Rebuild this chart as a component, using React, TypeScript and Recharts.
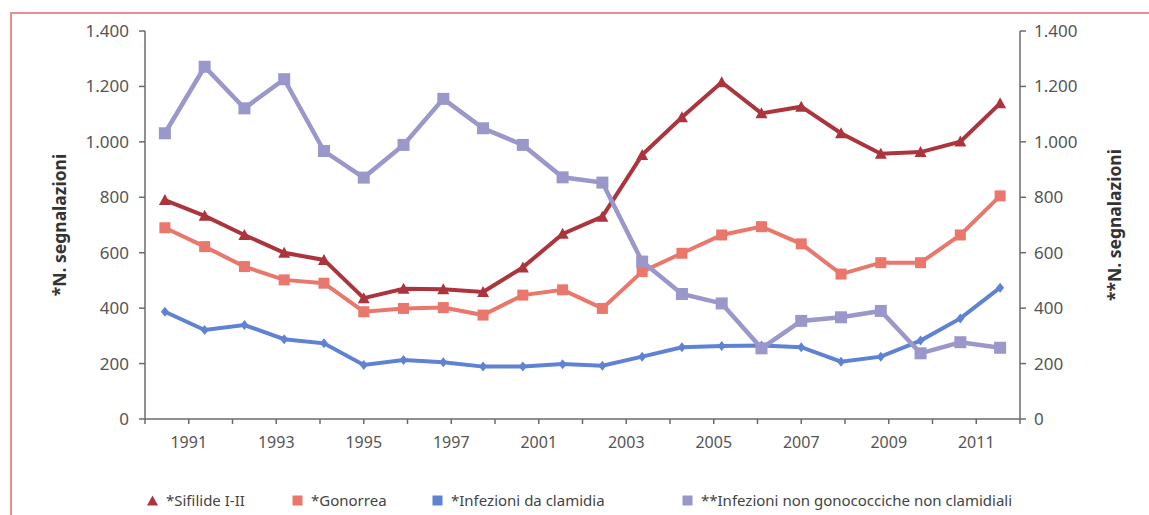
import { Legend, Line, LineChart, XAxis, YAxis } from 'recharts'

const years = [
  1990, 1991, 1992, 1993, 1994, 1995, 1996, 1997, 1998, 1999, 2000, 2001,
  2002, 2003, 2004, 2005, 2006, 2007, 2008, 2009, 2010, 2011,
]

// tick labels as printed under the axis (one every other tick)
const xTickLabels = ['1991', '1993', '1995', '1997', '2001', '2003', '2005', '2007', '2009', '2011']
const yTicks = [0, 200, 400, 600, 800, 1000, 1200, 1400]

const sifilide = [790, 733, 664, 600, 574, 436, 470, 468, 458, 547, 668, 730, 953, 1089, 1215, 1103, 1127, 1031, 957, 963, 1001, 1139]
const gonorrea = [690, 622, 550, 502, 490, 387, 399, 402, 375, 447, 466, 399, 532, 598, 664, 694, 632, 523, 564, 564, 664, 805]
const clamidia = [387, 321, 339, 288, 273, 195, 213, 205, 189, 189, 198, 192, 225, 259, 263, 265, 259, 207, 225, 283, 363, 474]
const nonGono = [1031, 1271, 1121, 1226, 967, 871, 989, 1155, 1049, 989, 872, 853, 568, 451, 417, 255, 354, 367, 390, 237, 277, 257]

const RED = '#AC353D'
const SALMON = '#E9776C'
const BLUE = '#5F82D3'
const PURPLE = '#9A97CA'

const data = years.map((year, i) => ({
  year,
  sifilide: sifilide[i],
  gonorrea: gonorrea[i],
  clamidia: clamidia[i],
  nonGono: nonGono[i],
}))

// the printed axis has 20 equal steps spread over the 22 data slots
const xMin = years[0] - 0.5
const xMax = years[years.length - 1] + 0.5
const xStep = (xMax - xMin) / 20
const xTicks = Array.from({ length: 21 }, (_, k) => xMin + k * xStep)

const fmtX = (v: number) => {
  const k = Math.round((v - xMin) / xStep)
  return k % 2 === 1 ? xTickLabels[(k - 1) / 2] ?? '' : ''
}
const fmtY = (v: number) => String(v).replace(/\B(?=(\d{3})+(?!\d))/g, '.')

const triangleDot = (color: string) => (props: any) => {
  const { cx, cy, index } = props
  if (cx == null || cy == null) return <g key={index} />
  return (
    <polygon
      key={index}
      points={`${cx},${cy - 6} ${cx + 6},${cy + 5} ${cx - 6},${cy + 5}`}
      fill={color}
    />
  )
}

const squareDot = (color: string, s: number) => (props: any) => {
  const { cx, cy, index } = props
  if (cx == null || cy == null) return <g key={index} />
  return <rect key={index} x={cx - s / 2} y={cy - s / 2} width={s} height={s} fill={color} />
}

const diamondDot = (color: string) => (props: any) => {
  const { cx, cy, index } = props
  if (cx == null || cy == null) return <g key={index} />
  return (
    <polygon
      key={index}
      points={`${cx},${cy - 5} ${cx + 4},${cy} ${cx},${cy + 5} ${cx - 4},${cy}`}
      fill={color}
    />
  )
}

const legendItems = [
  { label: '*Sifilide I-II', color: RED, shape: 'triangle', left: 147 },
  { label: '*Gonorrea', color: SALMON, shape: 'square', left: 292 },
  { label: '*Infezioni da clamidia', color: BLUE, shape: 'square', left: 432 },
  { label: '**Infezioni non gonococciche non clamidiali', color: PURPLE, shape: 'square', left: 682 },
]

function ChartLegend() {
  return (
    <div style={{ position: 'relative', width: 1149, height: 22 }}>
      {legendItems.map((it) => (
        <div
          key={it.label}
          style={{
            position: 'absolute',
            left: it.left,
            top: 0,
            display: 'flex',
            alignItems: 'center',
            height: 22,
            fontSize: 15,
            color: '#444',
          }}
        >
          <svg width={11} height={11} style={{ marginRight: 8 }}>
            {it.shape === 'triangle' ? (
              <polygon points='5.5,0.5 11,10.5 0,10.5' fill={it.color} />
            ) : (
              <rect x={0.5} y={0.5} width={10} height={10} fill={it.color} />
            )}
          </svg>
          <span>{it.label}</span>
        </div>
      ))}
    </div>
  )
}

const axisStroke = { stroke: '#6b6b6b', strokeWidth: 1.5 }

export default function App() {
  return (
    <div
      style={{
        position: 'fixed',
        left: 0,
        top: 0,
        width: 1149,
        height: 515,
        background: '#ffffff',
        fontFamily: '"Noto Sans", sans-serif',
        overflow: 'hidden',
      }}
    >
      <div
        style={{
          position: 'absolute',
          left: 10,
          top: 12,
          right: -4,
          bottom: -4,
          borderTop: '2px solid #E98E8A',
          borderLeft: '2px solid #E98E8A',
        }}
      />
      <LineChart
        width={1149}
        height={515}
        data={data}
        margin={{ top: 31, right: 24, left: 40, bottom: 4 }}
        style={{ position: 'absolute', left: 0, top: 0 }}
      >
        <XAxis
          dataKey='year'
          type='number'
          domain={[xMin, xMax]}
          ticks={xTicks}
          interval={0}
          tickFormatter={fmtX}
          height={70}
          tickSize={5}
          tickMargin={13}
          tick={{ fill: '#555', fontSize: 16 }}
          tickLine={axisStroke}
          axisLine={axisStroke}
        />
        <YAxis
          yAxisId='left'
          domain={[0, 1400]}
          ticks={yTicks}
          tickFormatter={fmtY}
          width={105}
          tickSize={6}
          tickMargin={10}
          tick={{ fill: '#555', fontSize: 17 }}
          tickLine={axisStroke}
          axisLine={axisStroke}
          label={{
            value: '*N. segnalazioni',
            angle: -90,
            position: 'insideLeft',
            offset: 20,
            style: { textAnchor: 'middle', fill: '#333', fontSize: 17.5, fontWeight: 700 },
          }}
        />
        <YAxis
          yAxisId='right'
          orientation='right'
          domain={[0, 1400]}
          ticks={yTicks}
          tickFormatter={fmtY}
          width={105}
          tickSize={6}
          tickMargin={8}
          tick={{ fill: '#555', fontSize: 17 }}
          tickLine={axisStroke}
          axisLine={axisStroke}
          label={{
            value: '**N. segnalazioni',
            angle: -90,
            position: 'insideRight',
            offset: 10,
            style: { textAnchor: 'middle', fill: '#333', fontSize: 17.5, fontWeight: 700 },
          }}
        />
        <Legend verticalAlign='bottom' content={<ChartLegend />} wrapperStyle={{ left: 0, width: 1149 }} />
        <Line
          yAxisId='left'
          dataKey='sifilide'
          name='*Sifilide I-II'
          stroke={RED}
          strokeWidth={4}
          dot={triangleDot(RED)}
          activeDot={false}
          isAnimationActive={false}
        />
        <Line
          yAxisId='left'
          dataKey='gonorrea'
          name='*Gonorrea'
          stroke={SALMON}
          strokeWidth={4}
          dot={squareDot(SALMON, 11)}
          activeDot={false}
          isAnimationActive={false}
        />
        <Line
          yAxisId='left'
          dataKey='clamidia'
          name='*Infezioni da clamidia'
          stroke={BLUE}
          strokeWidth={4}
          dot={diamondDot(BLUE)}
          activeDot={false}
          isAnimationActive={false}
        />
        <Line
          yAxisId='right'
          dataKey='nonGono'
          name='**Infezioni non gonococciche non clamidiali'
          stroke={PURPLE}
          strokeWidth={4.5}
          dot={squareDot(PURPLE, 12)}
          activeDot={false}
          isAnimationActive={false}
        />
      </LineChart>
    </div>
  )
}
